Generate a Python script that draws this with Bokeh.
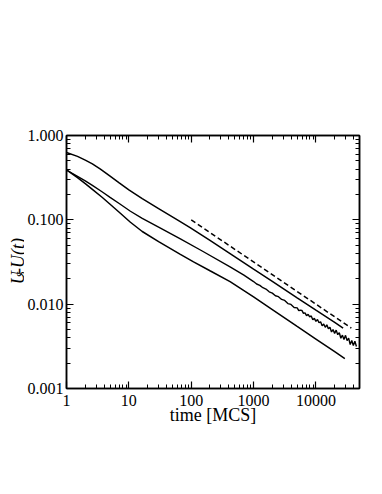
import math
from bokeh.plotting import figure
from bokeh.layouts import row
from bokeh.models import Range1d, FixedTicker, LogAxis, Label
from bokeh.embed import file_html
from bokeh.resources import INLINE

# ---- data ----
t_top = [1, 1.5, 2, 2.6, 3.5, 5, 7, 10, 16.4, 30, 60, 96, 200, 420, 1000, 2000, 5000,
         10000, 20000, 27300]
u_top = [0.63, 0.565, 0.51, 0.46, 0.40, 0.33, 0.274, 0.226, 0.178, 0.136, 0.100,
         0.081, 0.057, 0.0398, 0.026, 0.0186, 0.0119, 0.0085, 0.0061, 0.0052]

t_mid = [1, 1.5, 2, 2.6, 3.76, 5, 7, 10.6, 16.4, 30, 67, 150, 420, 700,
         1000, 1120, 1260, 1410, 1580, 1780, 2000, 2240, 2510, 2820, 3160, 3550, 3980, 4470,
         5012, 5309, 5623, 5957, 6310, 6683, 7079, 7499, 7943, 8414, 8913, 9441,
         10000, 10593, 11220, 11885, 12589, 13335, 14125, 14962, 15849, 16788, 17783,
         18836, 19953, 21135, 22387, 23714, 25119, 26607, 28184, 29854, 31623, 33497,
         35481, 37584, 39811, 42170, 44668]
u_mid = [0.39, 0.328, 0.289, 0.256, 0.214, 0.185, 0.156, 0.1265, 0.104, 0.082, 0.0594,
         0.0427, 0.0277, 0.0221,
         0.01854, 0.01734, 0.01671, 0.01567, 0.01510, 0.01400, 0.01352, 0.01259, 0.01227,
         0.01138, 0.01107, 0.01016, 0.00993, 0.00914,
         0.00905, 0.00838, 0.00847, 0.00844, 0.00778, 0.00790, 0.00730, 0.00757, 0.00707,
         0.00725, 0.00653, 0.00678, 0.00625, 0.00659, 0.00602, 0.00618, 0.00553, 0.00582,
         0.00532, 0.00568, 0.00512, 0.00532, 0.00468, 0.00500, 0.00450, 0.00492, 0.00435,
         0.00459, 0.00394, 0.00429, 0.00381, 0.00427, 0.00370, 0.00396, 0.00332, 0.00370,
         0.00323, 0.00363, 0.00315]

t_bot = [1, 1.5, 2, 2.6, 3.76, 5, 7, 10.6, 16.4, 30, 67, 109, 200, 420, 1000, 2000, 5000,
         10000, 20000, 29100]
u_bot = [0.39, 0.316, 0.269, 0.230, 0.184, 0.153, 0.123, 0.0937, 0.0727, 0.0551, 0.0390,
         0.0318, 0.0249, 0.0185, 0.0122, 0.00864, 0.00546, 0.00386, 0.00273, 0.00226]

t_ref = [100, 37000]
u_ref = [0.1, 0.0052]

x_ticks = [1, 10, 100, 1000, 10000]
x_labels = ["1", "10", "100", "1000", "10000"]
y_ticks = [0.001, 0.01, 0.1, 1]
y_labels = ["0.001", "0.010", "0.100", "1.000"]

x_minor = [d * k for d in x_ticks for k in range(2, 10) if d * k <= 50000]
y_minor = [d * k for d in y_ticks[:-1] for k in range(2, 10)]

FONT = "Liberation Serif"
H = 490
LW = 24  # width of the strip that carries the y-axis title

# ---- strip holding the y-axis title ----
lab = figure(width=LW, height=H, x_range=Range1d(0, LW), y_range=Range1d(0, H),
             output_backend="svg", toolbar_location=None,
             x_axis_location=None, y_axis_location=None,
             min_border_left=0, min_border_right=0, min_border_top=0, min_border_bottom=0)
lab.grid.visible = False
lab.outline_line_color = None
lab.background_fill_color = "white"
lab.border_fill_color = "white"

ang = math.pi / 2
lab.add_layout(Label(x=17, y=202, text="U", angle=ang,
                     text_font=FONT, text_font_style="italic", text_font_size="18px",
                     text_align="left", text_baseline="alphabetic", text_color="black"))
lab.add_layout(Label(x=20, y=215, text="S", angle=ang,
                     text_font=FONT, text_font_style="italic", text_font_size="12px",
                     text_align="left", text_baseline="alphabetic", text_color="black"))
lab.add_layout(Label(x=17, y=222, text="-U(t)", angle=ang,
                     text_font=FONT, text_font_style="italic", text_font_size="18px",
                     text_align="left", text_baseline="alphabetic", text_color="black"))

# ---- main chart ----
p = figure(width=380 - LW, height=H, x_axis_type="log", y_axis_type="log",
           x_range=Range1d(1, 50000), y_range=Range1d(0.001, 1),
           output_backend="svg", toolbar_location=None,
           min_border_left=66 - LW, min_border_right=21, min_border_top=135,
           min_border_bottom=102)
p.grid.visible = False
p.outline_line_color = "black"
p.outline_line_width = 1.5
p.background_fill_color = "white"
p.border_fill_color = "white"

def style_axis(ax, ticks, minor, labels, show):
    ax.ticker = FixedTicker(ticks=ticks, minor_ticks=minor)
    ax.major_tick_in = 7
    ax.major_tick_out = 0
    ax.minor_tick_in = 4
    ax.minor_tick_out = 0
    ax.major_tick_line_width = 1.2
    ax.minor_tick_line_width = 1
    ax.axis_line_width = 1.5
    ax.axis_line_color = "black"
    ax.major_tick_line_color = "black"
    ax.minor_tick_line_color = "black"
    ax.major_label_text_font = FONT
    ax.major_label_text_font_size = "16px" if show else "0px"
    ax.major_label_text_color = "black"
    ax.major_label_overrides = {float(k): (v if show else "") for k, v in zip(ticks, labels)}

style_axis(p.xaxis[0], x_ticks, x_minor, x_labels, True)
style_axis(p.yaxis[0], y_ticks, y_minor, y_labels, True)
p.xaxis[0].major_label_standoff = 6
p.yaxis[0].major_label_standoff = 3

xa = p.xaxis[0]
xa.axis_label = "time [MCS]"
xa.axis_label_text_font = FONT
xa.axis_label_text_font_size = "18px"
xa.axis_label_text_font_style = "normal"
xa.axis_label_text_color = "black"
xa.axis_label_standoff = -4

top_ax = LogAxis()
right_ax = LogAxis()
style_axis(top_ax, x_ticks, x_minor, x_labels, False)
style_axis(right_ax, y_ticks, y_minor, y_labels, False)
p.add_layout(top_ax, "above")
p.add_layout(right_ax, "right")

p.line(t_top, u_top, line_color="black", line_width=1.5)
p.line(t_mid, u_mid, line_color="black", line_width=1.4)
p.line(t_bot, u_bot, line_color="black", line_width=1.5)
p.line(t_ref, u_ref, line_color="black", line_width=1.5, line_dash="5 3")

layout = row(lab, p, spacing=0)
open("out.html", "w").write(file_html(layout, INLINE))
